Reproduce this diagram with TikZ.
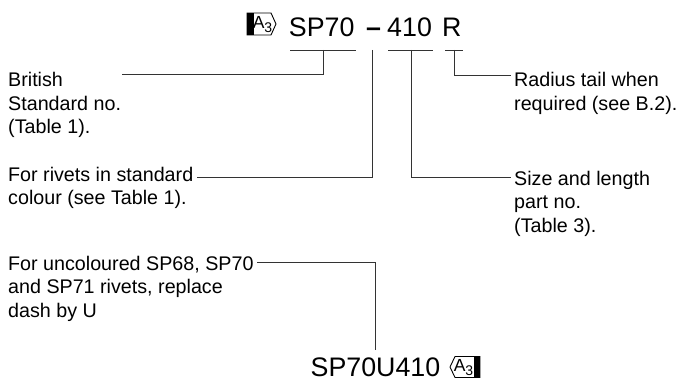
\documentclass[tikz,border=0pt]{standalone}
\usepackage{fontspec}
\setmainfont{Liberation Sans}
\usepackage{tikz}
\usetikzlibrary{positioning}

\begin{document}
\begin{tikzpicture}[
  x=1pt, y=-1pt,
  % base of a multi-line label is the baseline of its last line
  lbl/.style={font=\fontsize{19.7}{23.5}\selectfont, align=left, inner sep=0pt,
              anchor=base west},
  code/.style={font=\fontsize{26.8}{30}\selectfont, inner sep=0pt, anchor=base west},
  ln/.style={draw=black!80, line width=0.9pt},
  amk/.style={draw=black, line width=0.9pt, fill=white},
  amktxt/.style={inner sep=0pt, font=\fontsize{17.5}{17.5}\selectfont}
]
\useasboundingbox (0,0) rectangle (684,382);

% ==== top: the part number
\node[code] (sp)  at (288.7,36.5) {SP70};
\node[code] (ds)  at (366,36.5)   {\bfseries --};
\node[code] (num) at (387,36.5)   {410};
\node[code] (rr)  at (442,36.5)   {R};

% amendment mark
\path[amk] (247,13) -- (271,13) -- (276,24) -- (271,35) -- (247,35) -- cycle;
\fill (247,13) rectangle (253.5,35);
\node[amktxt] (mk1) at (262.5,24.5) {A\raisebox{-3.5pt}{\fontsize{14}{14}\selectfont 3}};

% ==== brackets under the parts
\draw[ln] (290,50) -- (356,50);
\draw[ln] (388,50) -- (433,50);
\draw[ln] (445,50) -- (463,50);
\coordinate (tsp)  at (323,50);
\coordinate (tds)  at (372,50);
\coordinate (tnum) at (411,50);
\coordinate (trr)  at (454,50);

% ==== labels
\node[lbl] (brit)  at (8,134)     {British\\Standard no.\\(Table 1).};
\node[lbl] (rivet) at (8,204.5)   {For rivets in standard\\colour (see Table 1).};
\node[lbl] (uncol) at (8,317)     {For uncoloured SP68, SP70\\and SP71 rivets, replace\\dash by U};
\node[lbl] (rad)   at (514,110.5) {Radius tail when\\required (see B.2).};
\node[lbl] (size)  at (514,232)   {Size and length\\part no.\\(Table 3).};

% free ends of the leaders, next to the labels
\coordinate (ebrit)  at (122,74);
\coordinate (erivet) at (197,177);
\coordinate (esize)  at (511,177);
\coordinate (erad)   at (511,75);
\coordinate (euncol) at (257,262);

% ==== leaders
\draw[ln] (tsp)  |- (ebrit);
\draw[ln] (tds)  |- (erivet);
\draw[ln] (tnum) |- (esize);
\draw[ln] (trr)  |- (erad);

% ==== bottom: uncoloured form
\node[code, anchor=base] (out) at (375.5,376.5) {SP70U410};
\coordinate (eout) at (375,350);
\draw[ln] (euncol) -| (eout);

\path[amk] (480,356.5) -- (455,356.5) -- (450,367) -- (455,377.5) -- (480,377.5) -- cycle;
\fill (474,356.5) rectangle (480,377.5);
\node[amktxt] (mk2) at (463.5,367.5) {A\raisebox{-3.5pt}{\fontsize{14}{14}\selectfont 3}};

\end{tikzpicture}
\end{document}
